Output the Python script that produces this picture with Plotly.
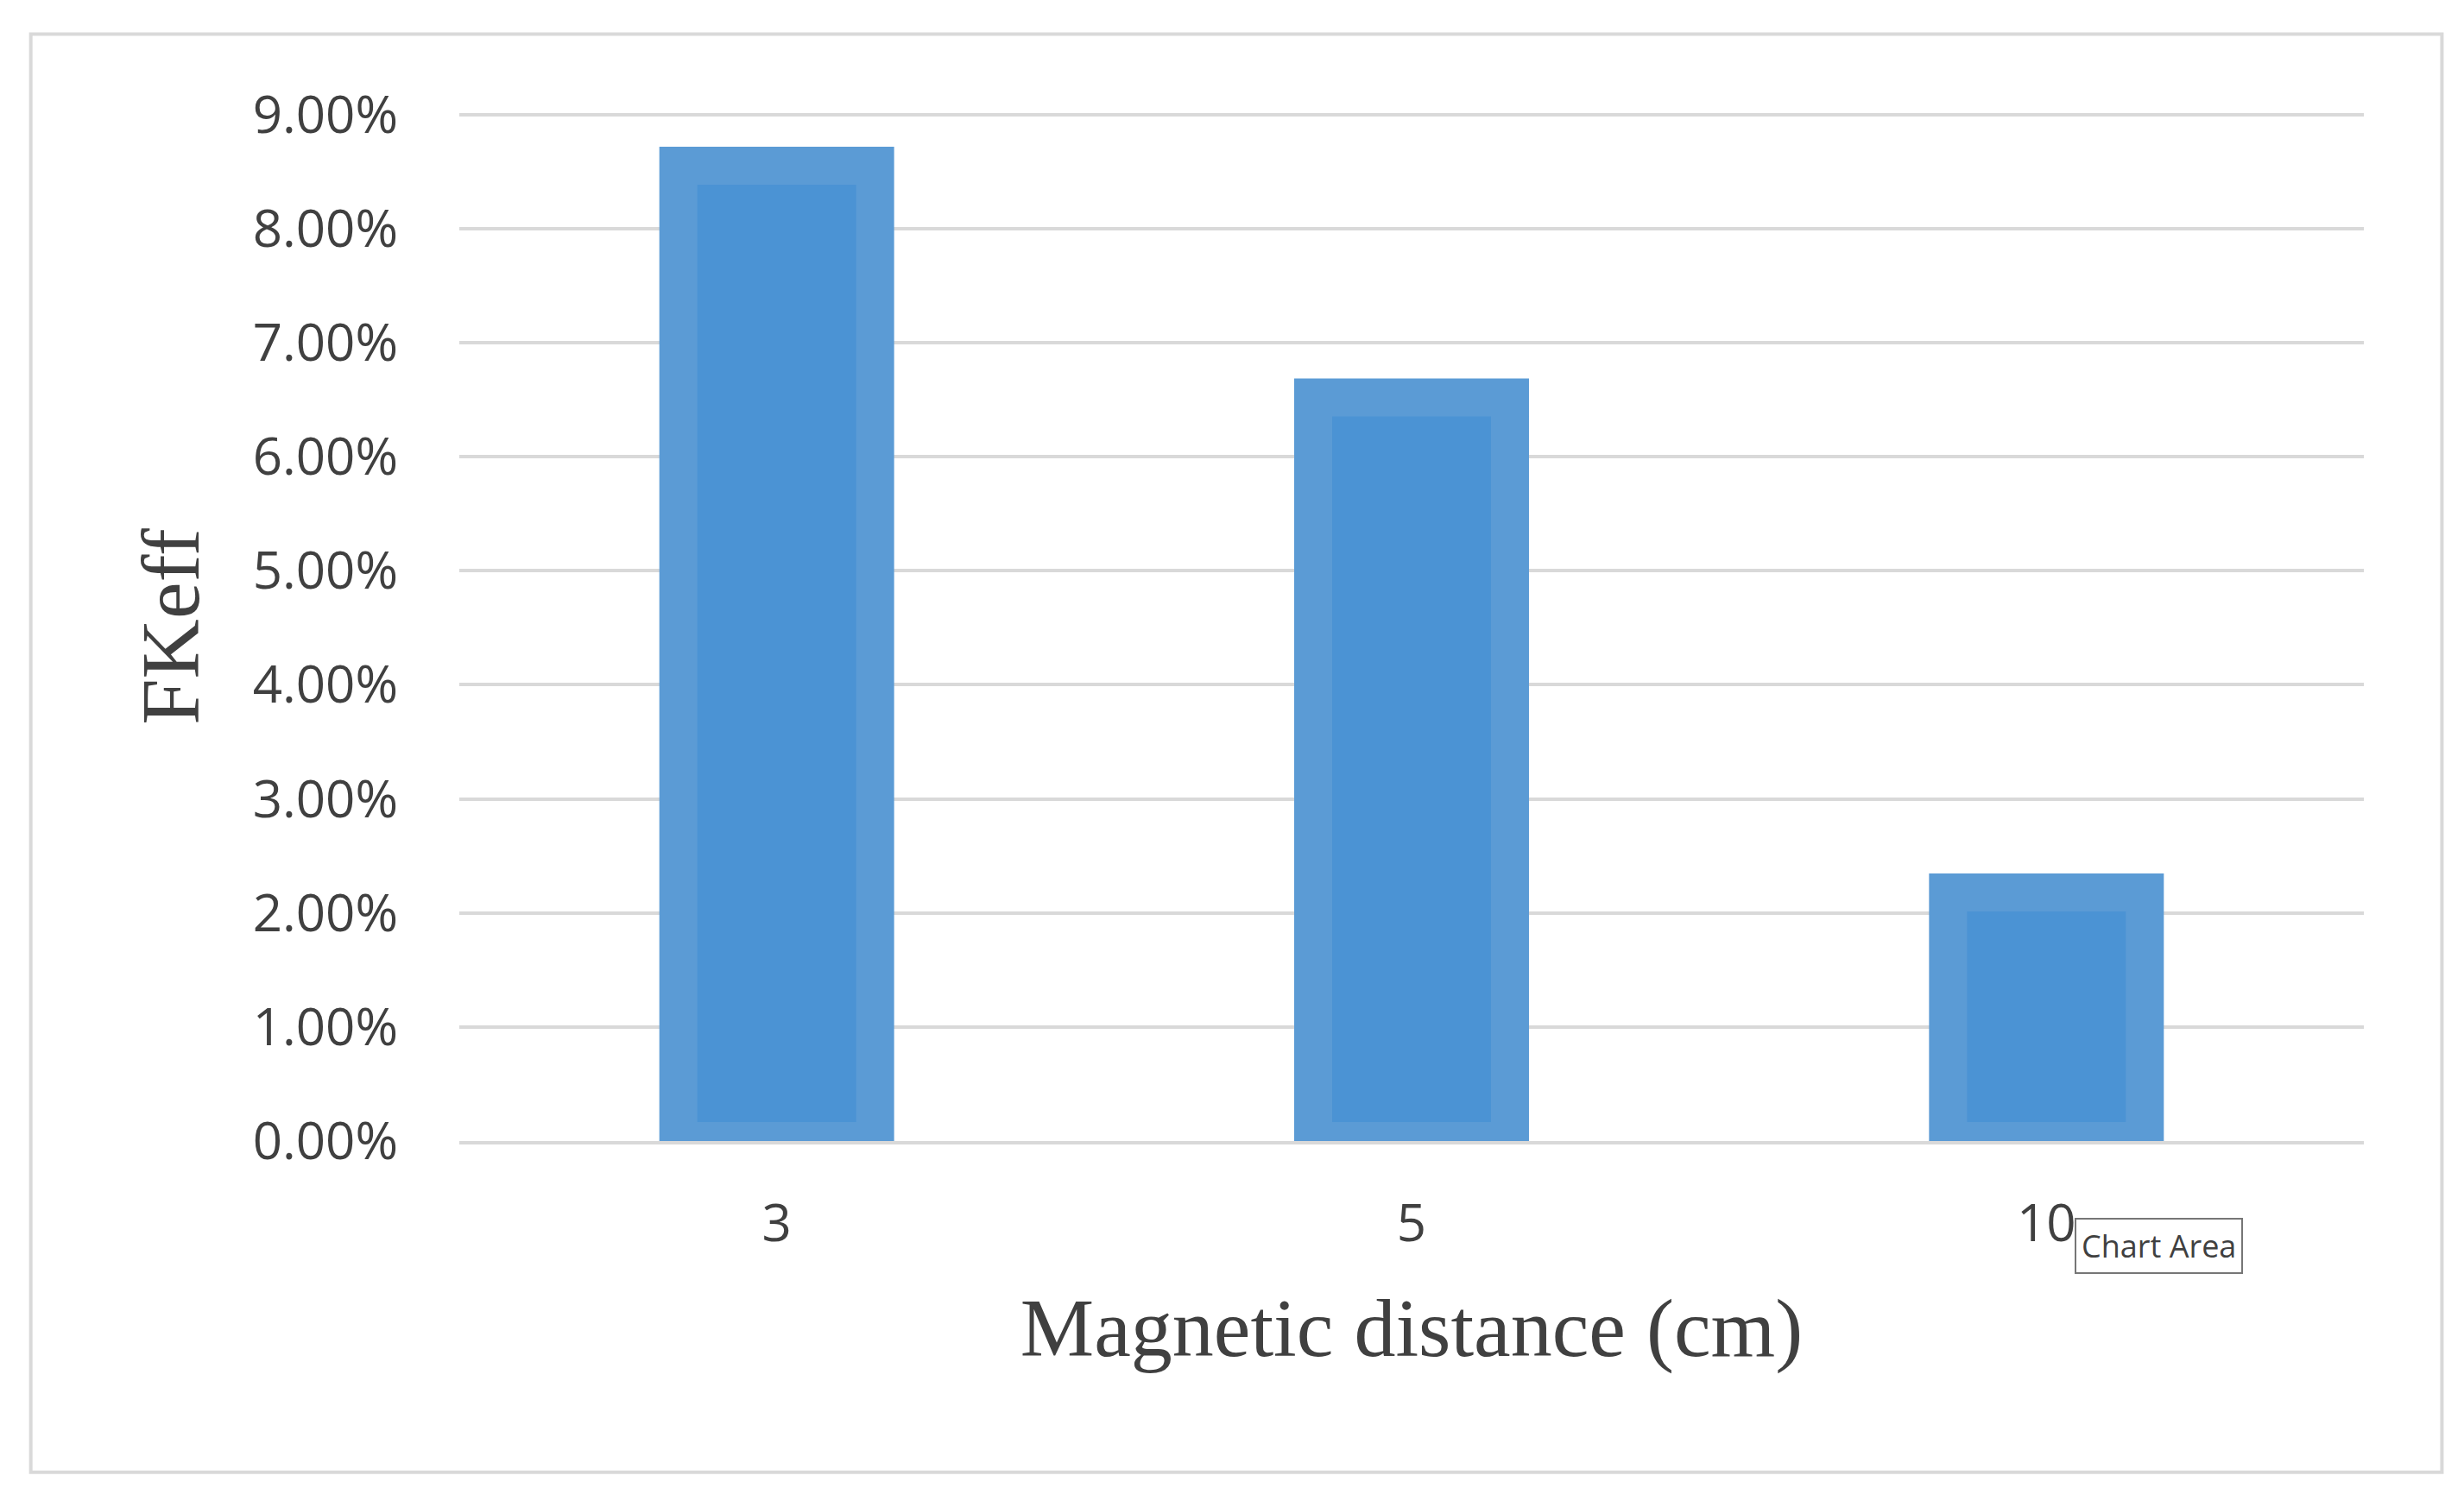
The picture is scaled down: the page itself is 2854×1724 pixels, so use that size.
import plotly.graph_objects as go

categories = ["3", "5", "10"]
values = [0.0855, 0.0652, 0.0218]
tick_vals = [0, 0.01, 0.02, 0.03, 0.04, 0.05, 0.06, 0.07, 0.08, 0.09]

W, H = 2854, 1724
fig = go.Figure(go.Bar(
    x=categories, y=values, width=0.31,
    marker=dict(color="#4B93D4", line=dict(color="#5B9BD5", width=44)),
))
fig.update_layout(
    width=W, height=H, paper_bgcolor="white", plot_bgcolor="white",
    margin=dict(l=524, r=124, t=122, b=410),
    showlegend=False,
    xaxis=dict(type="category", tickfont=dict(family="Open Sans", size=60, color="#404040"),
               ticks="", ticklabelstandoff=40,
               title=dict(text="Magnetic distance (cm)", font=dict(family="Liberation Serif", size=96, color="#404040"), standoff=50),
               showline=True, linecolor="#D9D9D9", linewidth=4),
    yaxis=dict(range=[0, 0.0902], tickvals=tick_vals, tickformat=".2%",
               tickfont=dict(family="Open Sans", size=60, color="#404040"),
               ticklabelstandoff=70,
               gridcolor="#D9D9D9", gridwidth=4, zeroline=False,
               title=dict(text="FKeff", font=dict(family="Liberation Serif", size=96, color="#404040"), standoff=30)),
    shapes=[dict(type="rect", xref="paper", yref="paper", x0=-0.225, x1=1.041, y0=-0.322, y1=1.076,
                 line=dict(color="#D9D9D9", width=4))],
    annotations=[dict(text="Chart Area", xref="paper", yref="paper", x=0.848, y=-0.075, xanchor="left", yanchor="top",
                      showarrow=False, font=dict(family="Open Sans", size=36, color="#404040"),
                      bgcolor="white", bordercolor="#767676", borderwidth=2, borderpad=6)],
)
fig.write_html("out.html")
